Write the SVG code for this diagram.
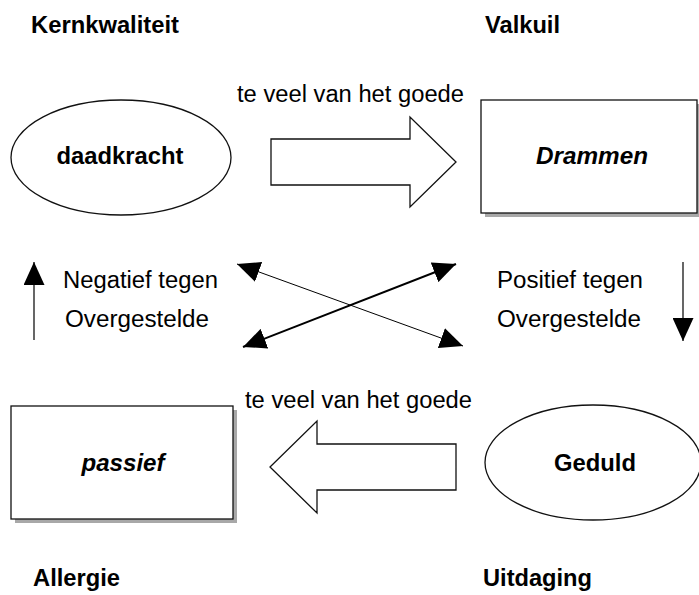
<svg xmlns="http://www.w3.org/2000/svg" width="699" height="595" viewBox="0 0 699 595">
<style>
text{font-family:"Liberation Sans",Arial,sans-serif;font-size:23px;fill:#000}
.b{font-weight:bold}
.bi{font-weight:bold;font-style:italic}
.shape{fill:#fff;stroke:#111;stroke-width:1.3}
.shadow{fill:#a8a8a8;stroke:none}
.con{stroke:#000;fill:none}
</style>
<defs>
<marker id="ah" viewBox="0 0 23 21" refX="23" refY="10.5" markerWidth="23" markerHeight="21" markerUnits="userSpaceOnUse" orient="auto-start-reverse">
<path d="M0,0 L23,10.5 L0,21 Z" fill="#000"/>
</marker>
</defs>
<rect width="699" height="595" fill="#fff"/>

<g id="labels">
<text class="b" x="31" y="33" textLength="148" lengthAdjust="spacingAndGlyphs">Kernkwaliteit</text>
<text class="b" x="485" y="33" textLength="75" lengthAdjust="spacingAndGlyphs">Valkuil</text>
<text class="b" x="33" y="586" textLength="87" lengthAdjust="spacingAndGlyphs">Allergie</text>
<text class="b" x="483" y="586" textLength="109" lengthAdjust="spacingAndGlyphs">Uitdaging</text>
<text x="237" y="102" textLength="227" lengthAdjust="spacingAndGlyphs">te veel van het goede</text>
<text x="245" y="408" textLength="227" lengthAdjust="spacingAndGlyphs">te veel van het goede</text>
<text x="63" y="288" textLength="155" lengthAdjust="spacingAndGlyphs">Negatief tegen</text>
<text x="65" y="327" textLength="144" lengthAdjust="spacingAndGlyphs">Overgestelde</text>
<text x="497" y="288" textLength="146" lengthAdjust="spacingAndGlyphs">Positief tegen</text>
<text x="497" y="327" textLength="144" lengthAdjust="spacingAndGlyphs">Overgestelde</text>
</g>

<g id="node-daadkracht">
<ellipse class="shape" cx="121" cy="157.5" rx="110" ry="57.5"/>
<text class="b" x="120" y="164" text-anchor="middle" textLength="127" lengthAdjust="spacingAndGlyphs">daadkracht</text>
</g>

<g id="node-drammen">
<rect class="shadow" x="485" y="104" width="216" height="113"/>
<rect class="shape" x="481" y="100" width="216" height="113"/>
<text class="bi" x="592" y="164" text-anchor="middle" textLength="112" lengthAdjust="spacingAndGlyphs">Drammen</text>
</g>

<g id="node-passief">
<rect class="shadow" x="15" y="410" width="222" height="113"/>
<rect class="shape" x="11" y="406" width="222" height="113"/>
<text class="bi" x="123" y="471" text-anchor="middle" textLength="83" lengthAdjust="spacingAndGlyphs">passief</text>
</g>

<g id="node-geduld">
<ellipse class="shape" cx="593" cy="462.5" rx="108" ry="57.5"/>
<text class="b" x="595" y="471" text-anchor="middle" textLength="82" lengthAdjust="spacingAndGlyphs">Geduld</text>
</g>

<g id="connectors">
<path class="shape" d="M271,139 L410,139 L410,117 L456,162 L410,207 L410,185 L271,185 Z"/>
<path class="shape" d="M456,444 L317,444 L317,421 L270,467 L317,513 L317,490 L456,490 Z"/>
<line class="con" x1="34" y1="340" x2="34" y2="262" stroke-width="1.2" marker-end="url(#ah)"/>
<line class="con" x1="683" y1="262" x2="683" y2="341" stroke-width="1.2" marker-end="url(#ah)"/>
<line class="con" x1="237" y1="264" x2="463" y2="346" stroke-width="1" marker-start="url(#ah)" marker-end="url(#ah)"/>
<line class="con" x1="243" y1="347" x2="456" y2="264" stroke-width="2" marker-start="url(#ah)" marker-end="url(#ah)"/>
</g>
</svg>
